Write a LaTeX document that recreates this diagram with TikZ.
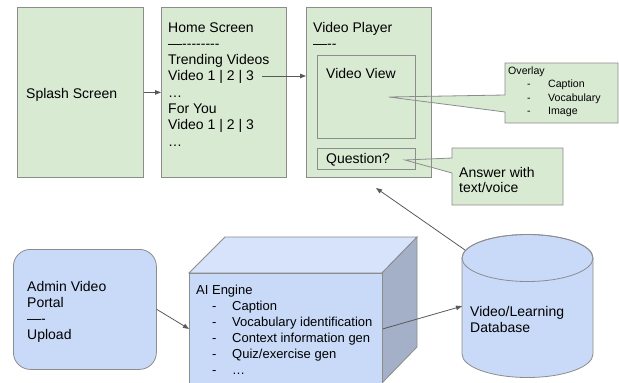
\documentclass[tikz,border=0pt]{standalone}
\usepackage{fontspec}
\setmainfont{Liberation Sans}[Ligatures=TeXOff]
\usetikzlibrary{arrows.meta}
\definecolor{gfill}{HTML}{D9EAD3}
\definecolor{bfill}{HTML}{C9DAF8}
\definecolor{btop}{HTML}{D6E3FA}
\definecolor{bside}{HTML}{A3B0C8}
\definecolor{bord}{HTML}{8C8C8C}
\definecolor{arrc}{HTML}{595959}
\begin{document}
\begin{tikzpicture}[x=1pt,y=-1pt,
  gbox/.style={draw=bord,fill=gfill,line width=0.8pt,inner sep=0pt,anchor=north west},
  bbox/.style={draw=bord,fill=bfill,line width=0.8pt},
  txt/.style={inner sep=0pt,anchor=base west,align=left,font=\fontsize{14}{16.3}\selectfont},
  conn/.style={draw=arrc,line width=0.8pt,-{Triangle[length=6pt,width=4.5pt]}},
]
\useasboundingbox (0,0) rectangle (619,383);

% top row boxes
\node[gbox,minimum width=126pt,minimum height=170pt] (splash) at (17,7) {};
\node[gbox,minimum width=125pt,minimum height=170pt] (home) at (161,7) {};
\node[gbox,minimum width=125pt,minimum height=170pt] (vp) at (306,7) {};
\node[gbox,minimum width=98pt,minimum height=83pt] (vview) at (317,55) {};
\node[gbox,minimum width=98pt,minimum height=21pt] (quest) at (317,148) {};

% callouts
\path[fill=gfill] (505,63) -- (618,63) -- (618,123) -- (505,123) -- (505,112) -- (389,97) -- (505,95) -- cycle;
\path[fill=gfill] (452,148) -- (563,148) -- (563,205) -- (452,205) -- (452,173) -- (405,160) -- (452,158) -- cycle;
\draw[bord,line width=0.8pt] (vp.north west) rectangle (vp.south east);
\draw[bord,line width=0.8pt] (vview.north west) rectangle (vview.south east);
\draw[bord,line width=0.8pt] (quest.north west) rectangle (quest.south east);
\draw[bord,line width=0.8pt] (505,63) -- (618,63) -- (618,123) -- (505,123) -- (505,112) -- (389,97) -- (505,95) -- cycle;
\draw[bord,line width=0.8pt] (452,148) -- (563,148) -- (563,205) -- (452,205) -- (452,173) -- (405,160) -- (452,158) -- cycle;

% texts top row (anchor = baseline of the last line)
\node[txt] (splasht) at (26,98) {Splash Screen};
\node[txt] (homet) at (168,146.1) {Home Screen\\—--------\\Trending Videos\\Video 1 | 2 | 3\\…\\For You\\Video 1 | 2 | 3\\…};
\node[txt] (vpt) at (313,48.3) {Video Player\\—--};
\node[txt] (vviewt) at (326,78) {Video View};
\node[txt] (questt) at (326,163) {Question?};
\node[txt,font=\fontsize{10.6}{13.5}\selectfont] (ovt) at (508,114.5)
  {Overlay\\\hspace*{19pt}\makebox[21pt][l]{-}Caption\\\hspace*{19pt}\makebox[21pt][l]{-}Vocabulary\\\hspace*{19pt}\makebox[21pt][l]{-}Image};
\node[txt,font=\fontsize{14}{15}\selectfont] (anst) at (459,192) {Answer with\\text/voice};

% admin
\node[bbox,rounded corners=17pt,minimum width=143pt,minimum height=120pt,inner sep=0pt,anchor=north west] (admin) at (13,249) {};
\node[txt] (admint) at (27,339.9) {Admin Video\\Portal\\—-\\Upload};

% AI engine cube
\path[draw=bord,fill=btop,line width=0.8pt] (189,273) -- (225,237) -- (417,237) -- (382,273) -- cycle;
\path[draw=bord,fill=bside,line width=0.8pt] (382,273) -- (417,237) -- (417,347) -- (382,383) -- cycle;
\node[bbox,minimum width=193pt,minimum height=111pt,inner sep=0pt,anchor=north west] (ai) at (189,273) {};
\node[txt,font=\fontsize{13}{16}\selectfont] (ait) at (196,374)
  {AI Engine\\\hspace*{16pt}\makebox[20pt][l]{-}Caption\\\hspace*{16pt}\makebox[20pt][l]{-}Vocabulary identification\\\hspace*{16pt}\makebox[20pt][l]{-}Context information gen\\\hspace*{16pt}\makebox[20pt][l]{-}Quiz/exercise gen\\\hspace*{16pt}\makebox[20pt][l]{-}…};

% database
\path[bbox] (462,258) -- (462,354) arc[start angle=180,end angle=0,x radius=65.5,y radius=23.5]
  -- (593,258) arc[start angle=0,end angle=-180,x radius=65.5,y radius=23.5] -- cycle;
\draw[bord,line width=0.8pt] (527.5,258) ellipse[x radius=65.5,y radius=23.5];
\node[inner sep=0pt,minimum width=131pt,minimum height=142pt,anchor=north west] (db) at (462,235) {};
\node[txt] (dbt) at (470,332.3) {Video/Learning\\Database};

% connectors
\coordinate (hvs) at (262,76);
\coordinate (dbs) at (465,250);
\coordinate (vpin) at (376,188);
\draw[conn] (splash.east) -- (home.west);
\draw[conn] (hvs) -- (hvs -| vp.west);
\draw[conn] (admin.east) -- (ai.west);
\draw[conn] (ai.east) -- (db.west);
\draw[conn] (dbs) -- (vpin);
\end{tikzpicture}
\end{document}
